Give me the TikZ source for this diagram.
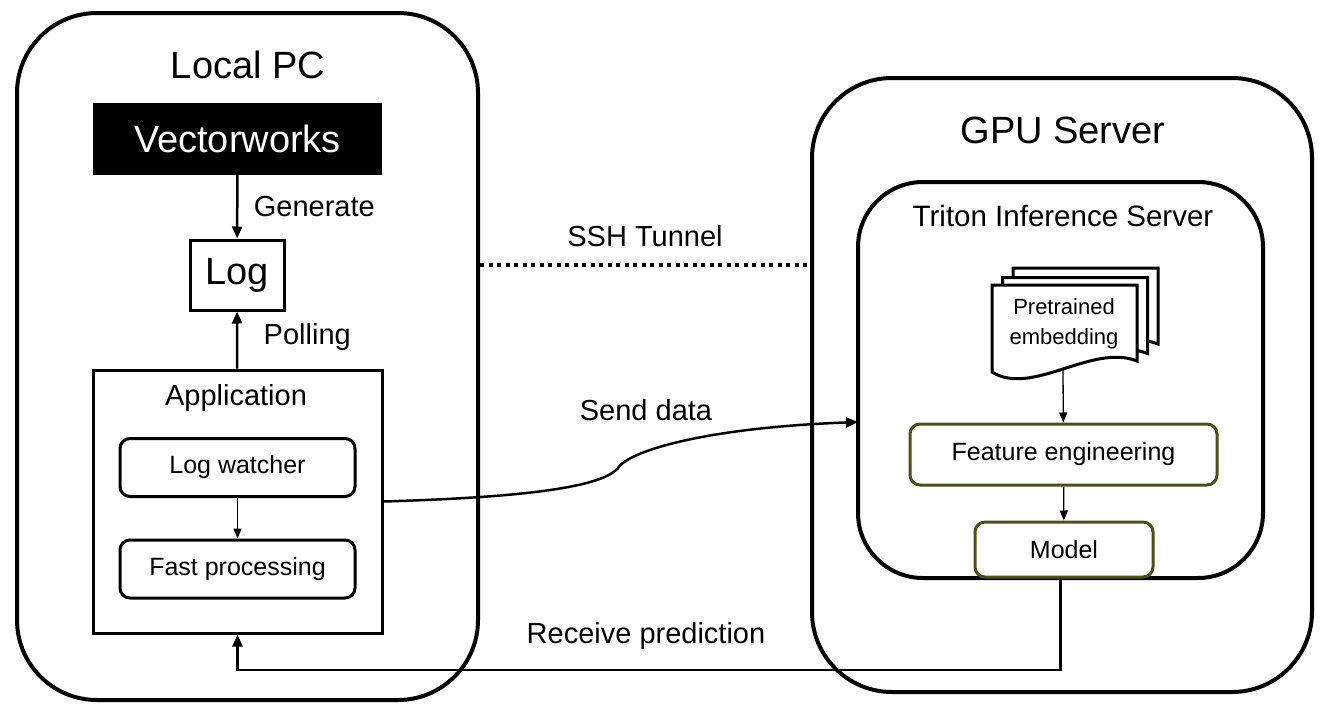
\documentclass[tikz,border=0pt]{standalone}
\usepackage{fontspec}
\setmainfont{Liberation Sans}
\usetikzlibrary{arrows.meta}

\definecolor{featolive}{RGB}{78,78,24}

\tikzset{
    bigbox/.style={draw, line width=4pt, rounded corners=80pt, inner sep=0pt},
    innerbox/.style={draw, line width=3pt, rounded corners=10pt, inner sep=0pt,
        minimum width=235pt, minimum height=58pt, font=\fontsize{25}{30}\selectfont},
    featbox/.style={innerbox, draw=featolive},
    lbl/.style={font=\fontsize{29}{34}\selectfont},
    bigtitle/.style={font=\fontsize{38}{44}\selectfont},
    arr/.style={line width=2.5pt, -{Triangle[length=12pt,width=10pt]}},
    thinarr/.style={line width=1.3pt, -{Triangle[length=10pt,width=8pt]}},
    docline/.style={draw, fill=white, line width=3pt, line join=miter},
}

% one sheet of the document stack, top left corner at #1
\newcommand\docsheet[1]{%
    \path[docline, shift={#1}] (0,0) -- (145,0) -- (145,76)
        .. controls (100,58) and (40,112) .. (0,87) -- cycle;}

\begin{document}
\begin{tikzpicture}[x=1pt, y=-1pt]
    \useasboundingbox (0,0) rectangle (1328,720);

    % local side
    \node[bigbox, minimum width=461pt, minimum height=687pt] (localpc) at (247.5,356.5) {};
    \node[bigtitle] at (248,65) {Local PC};
    \node[fill=black, text=white, bigtitle, minimum width=289pt, minimum height=72pt,
        inner sep=0pt] (vw) at (237.5,139) {Vectorworks};
    \node[draw, line width=3pt, bigtitle, minimum width=94pt, minimum height=70pt,
        inner sep=0pt] (log) at (237,275) {Log};
    \node[draw, line width=3pt, minimum width=289pt, minimum height=263pt] (app) at (237.5,501.5) {};
    \node[lbl] at (236,398) {Application};
    \node[innerbox] (watcher) at (237.5,467.5) {Log watcher};
    \node[innerbox] (fastproc) at (237.5,569) {Fast processing};

    \draw[arr] (vw) -- (log) node[lbl, midway, right=12pt] {Generate};
    \draw[arr] (app) -- (log) node[lbl, pos=0.55, right=22pt] {Polling};
    \draw[thinarr] (watcher) -- (fastproc);

    % server side
    \node[bigbox, minimum width=500pt, minimum height=614pt] (gpu) at (1062,385) {};
    \node[bigtitle] at (1063,130) {GPU Server};
    \node[bigbox, rounded corners=65pt, minimum width=405pt, minimum height=396pt] (triton) at (1060.5,380) {};
    \node[font=\fontsize{29.5}{34}\selectfont] at (1063,216) {Triton Inference Server};

    \docsheet{(1013,268)}
    \docsheet{(1002.5,277.5)}
    \docsheet{(992,285)}
    \node[align=center, font=\fontsize{22}{30}\selectfont] (embed) at (1064,324) {Pretrained\\embedding};
    \coordinate (embedbot) at (1063,370);

    \node[featbox, minimum width=307pt, minimum height=61pt] (feature) at (1063.5,454.5) {Feature engineering};
    \node[featbox, minimum width=178pt, minimum height=55pt] (model) at (1064,549.5) {Model};

    \draw[thinarr] (embedbot) -- (feature);
    \draw[thinarr] (feature) -- (model);

    % links between the two sides
    \coordinate (sendin) at (858,422);
    \draw[line width=3.5pt, dash pattern=on 4pt off 4.5pt] (localpc.east |- 0,265) -- (gpu.west |- 0,265);
    \node[lbl] at (645,236) {SSH Tunnel};

    \draw[arr] (app.east) .. controls (500,498) and (600,490) .. (618,468)
        .. controls (628,452) and (700,428) .. (sendin);
    \node[lbl] at (646,410) {Send data};

    \draw[arr] (triton.south) -- ++(0,90) -| (app.south);
    \node[lbl] at (646,636) {Receive prediction};
\end{tikzpicture}
\end{document}
